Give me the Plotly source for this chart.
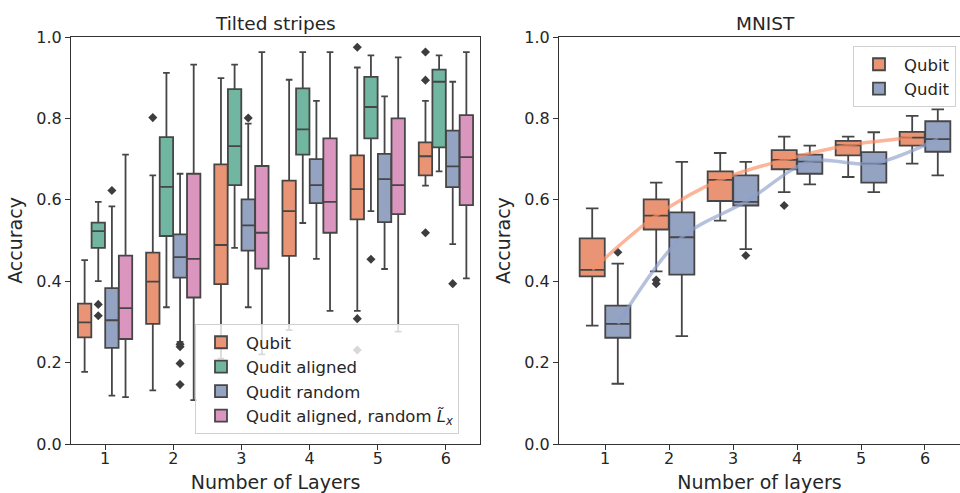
import plotly.graph_objects as go

# ---------------- data ----------------
layers = [1, 2, 3, 4, 5, 6]

stripe_series = ["Qubit", "Qudit aligned", "Qudit random",
                 "Qudit aligned, random <i>L̃<sub>x</sub></i>"]
# Tilted stripes: whisker low, q1, median, q3, whisker high (per series, per layer)
stripes_low = [
    [0.177, 0.132, 0.21, 0.28, 0.327, 0.635],
    [0.400, 0.336, 0.482, 0.543, 0.572, 0.670],
    [0.119, 0.251, 0.336, 0.455, 0.430, 0.491],
    [0.115, 0.108, 0.22, 0.327, 0.276, 0.407],
]
stripes_q1 = [
    [0.262, 0.295, 0.393, 0.462, 0.552, 0.660],
    [0.482, 0.511, 0.636, 0.711, 0.751, 0.729],
    [0.236, 0.409, 0.475, 0.592, 0.545, 0.631],
    [0.258, 0.360, 0.431, 0.519, 0.565, 0.587],
]
stripes_med = [
    [0.299, 0.399, 0.489, 0.572, 0.626, 0.707],
    [0.523, 0.632, 0.732, 0.773, 0.828, 0.890],
    [0.304, 0.459, 0.537, 0.636, 0.651, 0.682],
    [0.334, 0.455, 0.519, 0.595, 0.636, 0.705],
]
stripes_q3 = [
    [0.345, 0.470, 0.687, 0.647, 0.709, 0.741],
    [0.544, 0.754, 0.872, 0.874, 0.902, 0.920],
    [0.383, 0.515, 0.601, 0.700, 0.713, 0.770],
    [0.463, 0.664, 0.683, 0.751, 0.800, 0.808],
]
stripes_high = [
    [0.452, 0.660, 0.899, 0.895, 0.925, 0.843],
    [0.595, 0.912, 0.932, 0.963, 0.955, 0.955],
    [0.584, 0.664, 0.787, 0.843, 0.854, 0.890],
    [0.711, 0.932, 0.963, 0.963, 0.950, 0.963],
]
# outliers: (layer, value)
stripes_outliers = [
    [(2, 0.802), (5, 0.975), (5, 0.308), (5, 0.231), (6, 0.963), (6, 0.894), (6, 0.519)],
    [(1, 0.343), (1, 0.315), (5, 0.454)],
    [(1, 0.623), (2, 0.245), (2, 0.239), (2, 0.198), (2, 0.146), (3, 0.801), (6, 0.394)],
    [],
]

mnist_series = ["Qubit", "Qudit"]
mnist_low = [
    [0.291, 0.424, 0.549, 0.619, 0.656, 0.689],
    [0.148, 0.265, 0.479, 0.638, 0.619, 0.660],
]
mnist_q1 = [
    [0.412, 0.527, 0.597, 0.675, 0.709, 0.733],
    [0.261, 0.416, 0.586, 0.664, 0.642, 0.718],
]
mnist_med = [
    [0.428, 0.561, 0.649, 0.698, 0.734, 0.753],
    [0.295, 0.508, 0.595, 0.694, 0.689, 0.749],
]
mnist_q3 = [
    [0.505, 0.601, 0.670, 0.722, 0.745, 0.767],
    [0.340, 0.569, 0.660, 0.711, 0.717, 0.793],
]
mnist_high = [
    [0.579, 0.642, 0.715, 0.755, 0.755, 0.806],
    [0.443, 0.693, 0.693, 0.733, 0.766, 0.822],
]
mnist_outliers = [
    [(2, 0.403), (2, 0.394), (4, 0.586)],
    [(1, 0.471), (3, 0.463)],
]

y_ticks = [0.0, 0.2, 0.4, 0.6, 0.8, 1.0]

# ---------------- style ----------------
FONT = "DejaVu Sans"
TXT = "#262626"
EDGE = "#464646"
AX = "#333333"
stripe_colors = ["#e99575", "#71b6a0", "#95a3c3", "#db96c0"]
mnist_colors = ["#e99575", "#95a3c3"]
mnist_line_colors = ["rgba(252,141,98,0.65)", "rgba(141,160,203,0.65)"]
stripe_offsets = [-0.3, -0.1, 0.1, 0.3]
stripe_width = 0.196
mnist_offsets = [-0.2, 0.2]
mnist_width = 0.392

fig = go.Figure()

# left panel
for i, name in enumerate(stripe_series):
    xs = [l + stripe_offsets[i] for l in layers]
    fig.add_trace(go.Box(
        x=xs, q1=stripes_q1[i], median=stripes_med[i], q3=stripes_q3[i],
        lowerfence=stripes_low[i], upperfence=stripes_high[i],
        width=stripe_width, whiskerwidth=0.5, boxpoints=False,
        fillcolor=stripe_colors[i], line=dict(color=EDGE, width=1.8),
        name=name, legend="legend", xaxis="x", yaxis="y", hoverinfo="skip"))
for i, outs in enumerate(stripe_series):
    pts = stripes_outliers[i]
    if not pts:
        continue
    fig.add_trace(go.Scatter(
        x=[p[0] + stripe_offsets[i] for p in pts], y=[p[1] for p in pts],
        mode="markers", marker=dict(symbol="diamond", size=7, color="#3d3d3d"),
        showlegend=False, xaxis="x", yaxis="y", hoverinfo="skip"))

# right panel
for i, name in enumerate(mnist_series):
    xs = [l + mnist_offsets[i] for l in layers]
    fig.add_trace(go.Box(
        x=xs, q1=mnist_q1[i], median=mnist_med[i], q3=mnist_q3[i],
        lowerfence=mnist_low[i], upperfence=mnist_high[i],
        width=mnist_width, whiskerwidth=0.5, boxpoints=False,
        fillcolor=mnist_colors[i], line=dict(color=EDGE, width=1.8),
        name=name, legend="legend2", xaxis="x2", yaxis="y2", hoverinfo="skip"))
for i, name in enumerate(mnist_series):
    pts = mnist_outliers[i]
    fig.add_trace(go.Scatter(
        x=[p[0] + mnist_offsets[i] for p in pts], y=[p[1] for p in pts],
        mode="markers", marker=dict(symbol="diamond", size=7, color="#3d3d3d"),
        showlegend=False, xaxis="x2", yaxis="y2", hoverinfo="skip"))
for i, name in enumerate(mnist_series):
    fig.add_trace(go.Scatter(
        x=[l + mnist_offsets[i] for l in layers], y=mnist_med[i],
        mode="lines", line=dict(shape="spline", smoothing=0.9,
                                color=mnist_line_colors[i], width=3.5),
        showlegend=False, xaxis="x2", yaxis="y2", hoverinfo="skip"))

W, H = 960, 493
ydom = [49 / H, 456 / H]
tickfont = dict(family=FONT, size=16, color=TXT)
titlefont = dict(family=FONT, size=19, color=TXT)

def xax(domain, rng, title, anchor, mirror):
    return dict(domain=domain, range=rng, anchor=anchor, tickmode="array",
                tickvals=layers, ticktext=[str(l) for l in layers],
                ticks="outside", ticklen=5, tickwidth=1.2, tickcolor=AX,
                ticklabelstandoff=-5,
                showline=True, linecolor=AX, linewidth=1.2, mirror=mirror,
                showgrid=False, zeroline=False, tickfont=tickfont,
                title=dict(text=title, font=titlefont, standoff=8),
                automargin=False, fixedrange=True)

def yax(anchor, mirror):
    return dict(domain=ydom, range=[0, 1], anchor=anchor, tickmode="array",
                tickvals=y_ticks, ticktext=[f"{v:.1f}" for v in y_ticks],
                ticks="outside", ticklen=5, tickwidth=1.2, tickcolor=AX,
                showline=True, linecolor=AX, linewidth=1.2, mirror=mirror,
                showgrid=False, zeroline=False, tickfont=tickfont,
                title=dict(text="Accuracy", font=titlefont, standoff=8),
                automargin=False, fixedrange=True)

fig.update_layout(
    width=W, height=H, margin=dict(l=0, r=0, t=0, b=0),
    paper_bgcolor="white", plot_bgcolor="white",
    font=dict(family=FONT, color=TXT),
    xaxis=xax([71 / W, 480 / W], [0.5, 6.5], "Number of Layers", "y", True),
    yaxis=yax("x", True),
    xaxis2=xax([559 / W, 1.0], [0.281, 6.547], "Number of layers", "y2", True),
    yaxis2=yax("x2", False),
    legend=dict(x=195 / W, y=1 - 324 / H, xanchor="left", yanchor="top",
                itemwidth=40,
                bgcolor="rgba(255,255,255,0.8)", bordercolor="#d0d0d0", borderwidth=1,
                font=dict(family=FONT, size=16.5, color=TXT)),
    legend2=dict(x=853 / W, y=1 - 46 / H, xanchor="left", yanchor="top",
                 itemwidth=40,
                 bgcolor="rgba(255,255,255,0.8)", bordercolor="#d0d0d0", borderwidth=1,
                 font=dict(family=FONT, size=16.5, color=TXT)),
    showlegend=True,
    annotations=[
        dict(text="Tilted stripes", x=275.5 / W, y=1 - 23 / H, xref="paper", yref="paper",
             xanchor="center", yanchor="middle", showarrow=False,
             font=dict(family=FONT, size=18.5, color=TXT)),
        dict(text="MNIST", x=765 / W, y=1 - 23 / H, xref="paper", yref="paper",
             xanchor="center", yanchor="middle", showarrow=False,
             font=dict(family=FONT, size=18.5, color=TXT)),
    ],
)

fig.write_html("out.html")
